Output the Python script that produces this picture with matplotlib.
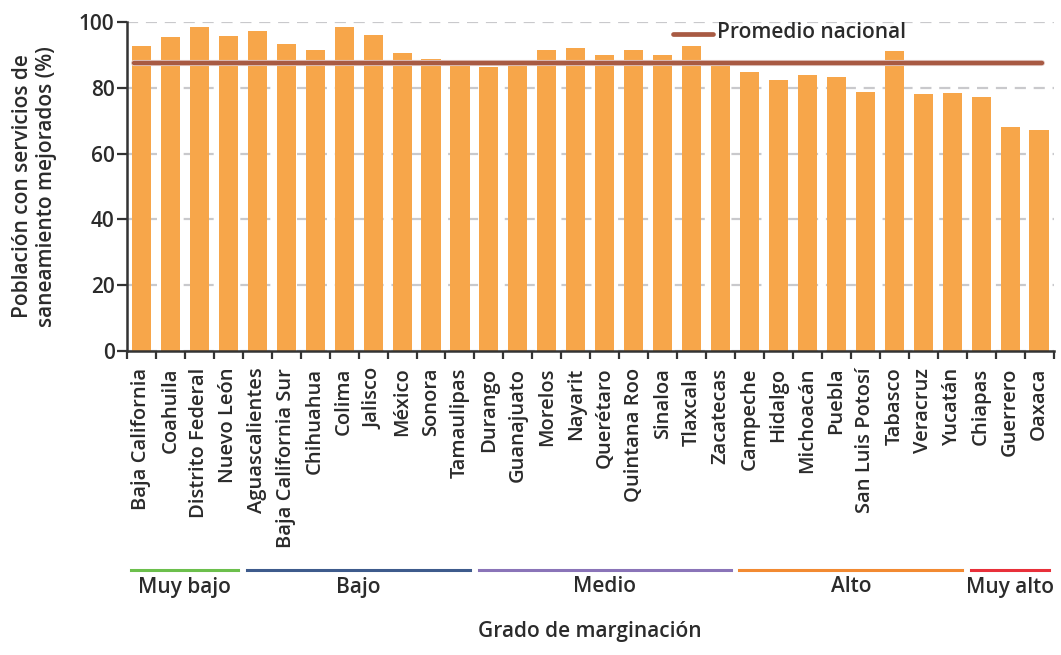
import matplotlib
matplotlib.use("Agg")
import matplotlib.pyplot as plt
import matplotlib.patheffects as pe
from matplotlib.transforms import blended_transform_factory
import numpy as np

plt.rcParams['font.family'] = ['Open Sans', 'DejaVu Sans']

states = ["Baja California", "Coahuila", "Distrito Federal", "Nuevo León",
          "Aguascalientes", "Baja California Sur", "Chihuahua", "Colima", "Jalisco",
          "México", "Sonora", "Tamaulipas",
          "Durango", "Guanajuato", "Morelos", "Nayarit", "Querétaro", "Quintana Roo",
          "Sinaloa", "Tlaxcala", "Zacatecas",
          "Campeche", "Hidalgo", "Michoacán", "Puebla", "San Luis Potosí", "Tabasco",
          "Veracruz", "Yucatán",
          "Chiapas", "Guerrero", "Oaxaca"]
values = [92.7, 95.4, 98.5, 95.7,
          97.3, 93.3, 91.5, 98.5, 96.0, 90.6, 88.8, 86.9,
          86.3, 88.4, 91.5, 92.1, 90.0, 91.5, 90.0, 92.7, 87.9,
          84.8, 82.4, 83.9, 83.3, 78.7, 91.2, 78.1, 78.4,
          77.2, 68.1, 67.2]
promedio = 87.6

groups = ["Muy bajo", "Bajo", "Medio", "Alto", "Muy alto"]
group_sizes = [4, 8, 9, 8, 3]
group_colors = ["#6cbf4c", "#3e5b8c", "#8a74b8", "#f28a32", "#e8303a"]

bar_color = "#f7a64a"
line_color = "#a85a43"
text_color = "#2b2b2b"
W = 'semibold'

fig = plt.figure(figsize=(10.61, 6.55), dpi=100)
ax = fig.add_axes([127/1061, 1 - 351/655, (1053.5 - 127)/1061, (351 - 22)/655])

x = np.arange(len(states))
ax.bar(x, values, width=0.66, color=bar_color, zorder=2)

# Average line
ax.plot([-0.25, len(states) - 0.9], [promedio, promedio], color=line_color, lw=3.2,
        solid_capstyle='round', zorder=3,
        path_effects=[pe.Stroke(linewidth=4.4, foreground="#e6d3cf"), pe.Normal()])

ax.set_xlim(-0.5, len(states) - 0.5)
ax.set_ylim(0, 100)
ax.set_yticks([0, 20, 40, 60, 80, 100])
ax.yaxis.grid(True, color="#c9c9cc", linestyle=(0, (5, 3.5)), lw=1.6, zorder=0)
ax.set_axisbelow(True)

ax.set_xticks(np.arange(-0.5, len(states) + 0.5, 1.0))
ax.set_xticklabels([])
ax.set_xticks(x, minor=True)
ax.set_xticklabels(states, minor=True, rotation=90, va='top', ha='center',
                   fontsize=14.5, color=text_color, fontweight=W)
ax.tick_params(axis='x', which='minor', length=0, pad=12)
ax.tick_params(axis='x', which='major', length=6, width=1.6, color="#333333")
ax.tick_params(axis='y', length=7, width=1.6, color="#333333", labelsize=15,
               labelcolor=text_color, pad=2)
for lab in ax.get_yticklabels():
    lab.set_fontweight(W)

for s in ["top", "right"]:
    ax.spines[s].set_visible(False)
for s in ["left", "bottom"]:
    ax.spines[s].set_color("#333333")
    ax.spines[s].set_linewidth(1.8)

ax.set_ylabel("Población con servicios de\nsaneamiento mejorados (%)", fontsize=15,
              color=text_color, fontweight=W, labelpad=16, linespacing=1.15)

# Legend
fig.lines.append(plt.Line2D([673/1061, 713/1061], [1 - 34/655, 1 - 34/655],
                            transform=fig.transFigure, color=line_color, lw=3.4,
                            solid_capstyle='round'))
fig.text(717/1061, 1 - 33/655, "Promedio nacional", fontsize=15, fontweight=W,
         color=text_color, va='center', ha='left')

# Group lines
tr = blended_transform_factory(ax.transData, fig.transFigure)
start = -0.5
for name, n, c in zip(groups, group_sizes, group_colors):
    x0 = start + 0.15
    x1 = start + n - 0.15
    ax.plot([x0, x1], [1 - 570/655, 1 - 570/655], transform=tr, color=c, lw=2.2,
            clip_on=False)
    ax.text((x0 + x1) / 2, 1 - 587/655, name, transform=tr, ha='center', va='center',
            fontsize=15, fontweight=W, color=text_color)
    start += n

fig.text((127 + 1053.5) / 2 / 1061, 1 - 632/655, "Grado de marginación", ha='center',
         va='center', fontsize=15, fontweight=W, color=text_color)

fig.savefig("out.png", dpi=100)
